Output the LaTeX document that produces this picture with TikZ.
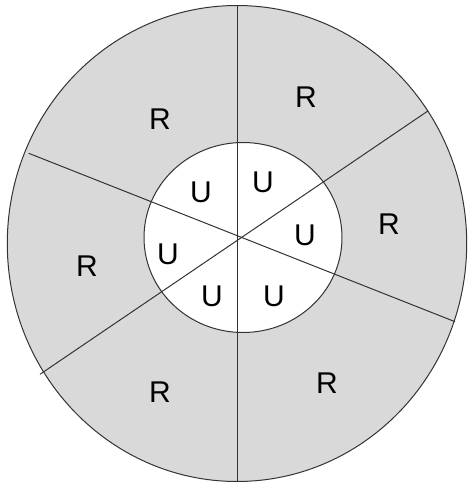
\documentclass[tikz,border=0pt]{standalone}
\usepackage{fontspec}
\setmainfont{Liberation Sans}
\definecolor{ringgray}{HTML}{D9D9D9}
\definecolor{linegray}{HTML}{333333}
\begin{document}
\begin{tikzpicture}[x=1pt,y=1pt,
  ring/.style={draw=linegray,line width=1pt},
  spoke/.style={draw=linegray,line width=1pt},
  lbl/.style={inner sep=0pt,font=\fontsize{30}{36}\selectfont}]
\useasboundingbox (0,0) rectangle (467,483);
% outer ring
\fill[ringgray] (237,239.5) ellipse [x radius=229.7, y radius=238];
\draw[ring] (237,239.5) ellipse [x radius=229.7, y radius=238];
% inner disc
\fill[white] (243,245.5) ellipse [x radius=99, y radius=95];
\draw[ring] (243,245.5) ellipse [x radius=99, y radius=95];
% spokes
\coordinate (vt) at (237.7,477.5);
\coordinate (vb) at (237.7,1.3);
\coordinate (a1) at (28.7,329.7);
\coordinate (a2) at (455,161.3);
\coordinate (b1) at (428.3,372.3);
\coordinate (b2) at (40,108.7);
\draw[spoke] (vt) -- (vb);
\draw[spoke] (a1) -- (a2);
\draw[spoke] (b1) -- (b2);
% labels
\node[lbl] (r1) at (160,364) {R};
\node[lbl] (r2) at (306,386) {R};
\node[lbl] (r3) at (389,259) {R};
\node[lbl] (r4) at (87,217) {R};
\node[lbl] (r5) at (160,91) {R};
\node[lbl] (r6) at (327,100) {R};
\node[lbl] (u1) at (201,291) {U};
\node[lbl] (u2) at (263,301) {U};
\node[lbl] (u3) at (305,248) {U};
\node[lbl] (u4) at (168,229) {U};
\node[lbl] (u5) at (212,187) {U};
\node[lbl] (u6) at (274,187) {U};
\end{tikzpicture}
\end{document}
